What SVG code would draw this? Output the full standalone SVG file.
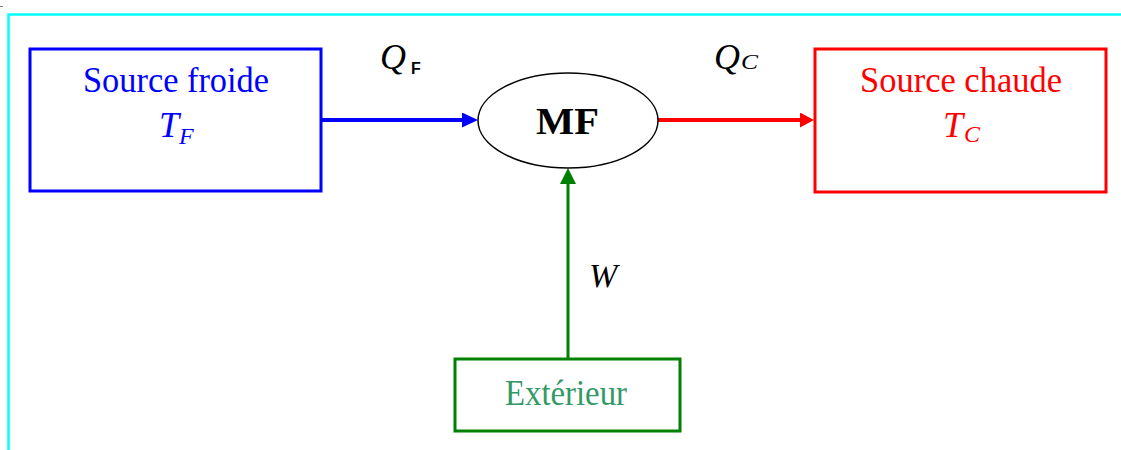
<svg xmlns="http://www.w3.org/2000/svg" width="1121" height="450" viewBox="0 0 1121 450">
<style>
.serif{font-family:"Liberation Serif","Times New Roman",serif}
.it{font-style:italic}
.box{fill:#fff;stroke-width:3}
</style>
<defs>
<marker id="ahB" markerUnits="userSpaceOnUse" markerWidth="18" markerHeight="16" refX="0" refY="7.5" orient="auto"><path d="M0,0 L16,7.5 L0,15 z" fill="#0000FF"/></marker>
<marker id="ahR" markerUnits="userSpaceOnUse" markerWidth="18" markerHeight="16" refX="0" refY="7.5" orient="auto"><path d="M0,0 L14,7.5 L0,15 z" fill="#FF0000"/></marker>
<marker id="ahG" markerUnits="userSpaceOnUse" markerWidth="18" markerHeight="18" refX="0" refY="8" orient="auto"><path d="M0,0 L16,8 L0,16 z" fill="#008000"/></marker>
</defs>
<rect width="1121" height="450" fill="#fff"/>
<line x1="0" y1="6.5" x2="3" y2="6.5" stroke="#777" stroke-width="1"/>
<path d="M8.5,450 V14.5 H1121" fill="none" stroke="#00FFFF" stroke-width="2.5"/>

<g id="connectors">
<line x1="321" y1="120" x2="462" y2="120" stroke="#0000FF" stroke-width="4" marker-end="url(#ahB)"/>
<line x1="658" y1="120" x2="800" y2="120" stroke="#FF0000" stroke-width="4" marker-end="url(#ahR)"/>
<line x1="568" y1="358" x2="568" y2="184" stroke="#008000" stroke-width="3" marker-end="url(#ahG)"/>
<text class="serif it" x="380" y="69" font-size="36" fill="#000">Q</text>
<text x="411" y="74" font-family="'Liberation Sans',Arial,sans-serif" font-weight="bold" font-size="16" fill="#000">F</text>
<text class="serif it" x="714" y="69" font-size="36" fill="#000">Q</text>
<text class="serif it" x="741" y="69" font-size="22" fill="#000" textLength="17" lengthAdjust="spacingAndGlyphs">C</text>
<text class="serif it" x="589" y="287" font-size="34" fill="#000">W</text>
</g>

<g id="source-froide">
<rect class="box" x="30" y="49" width="291" height="142" stroke="#0000FF"/>
<text class="serif" x="176" y="92" font-size="36" fill="#0000FF" text-anchor="middle" textLength="186" lengthAdjust="spacingAndGlyphs">Source froide</text>
<text class="serif it" x="159" y="137" font-size="36" fill="#0000FF">T</text>
<text class="serif it" x="179" y="144" font-size="24" fill="#0000FF">F</text>
</g>

<g id="mf">
<ellipse cx="568" cy="120.5" rx="90" ry="47.5" fill="#fff" stroke="#000" stroke-width="1.5"/>
<text class="serif" x="567.5" y="134" font-size="37" font-weight="bold" fill="#000" text-anchor="middle" textLength="63" lengthAdjust="spacingAndGlyphs">MF</text>
</g>

<g id="source-chaude">
<rect class="box" x="815" y="49" width="291" height="143" stroke="#FF0000"/>
<text class="serif" x="961" y="92" font-size="36" fill="#FF0000" text-anchor="middle" textLength="202" lengthAdjust="spacingAndGlyphs">Source chaude</text>
<text class="serif it" x="943" y="137" font-size="36" fill="#FF0000">T</text>
<text class="serif it" x="964" y="142" font-size="24" fill="#FF0000">C</text>
</g>

<g id="exterieur">
<rect class="box" x="455" y="359" width="225" height="72" stroke="#008000"/>
<text class="serif" x="566" y="405" font-size="35" fill="#339966" text-anchor="middle" textLength="122" lengthAdjust="spacingAndGlyphs">Extérieur</text>
</g>
</svg>
